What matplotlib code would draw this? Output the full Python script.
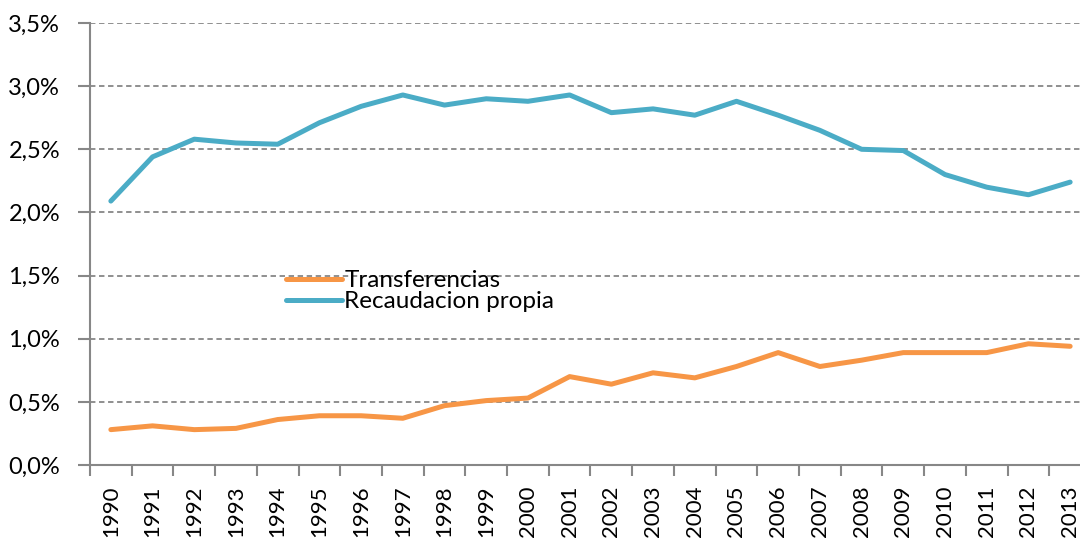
import matplotlib.pyplot as plt
from matplotlib.ticker import FuncFormatter, MultipleLocator

YEARS = [str(y) for y in range(1990, 2014)]

TRANSFERENCIAS = [0.28, 0.31, 0.28, 0.29, 0.36, 0.39, 0.39, 0.37, 0.47, 0.51,
                  0.53, 0.70, 0.64, 0.73, 0.69, 0.78, 0.89, 0.78, 0.83, 0.89,
                  0.89, 0.89, 0.96, 0.94]

RECAUDACION = [2.09, 2.44, 2.58, 2.55, 2.54, 2.71, 2.84, 2.93, 2.85, 2.90,
               2.88, 2.93, 2.79, 2.82, 2.77, 2.88, 2.77, 2.65, 2.50, 2.49,
               2.30, 2.20, 2.14, 2.24]

ORANGE = "#F79646"
BLUE = "#4BACC6"
GREY = "#878787"

plt.rcParams["font.family"] = ["Lato", "DejaVu Sans"]

fig = plt.figure(figsize=(10.8, 5.38), dpi=100)
# the plot area runs a bit past the right edge of the picture, like the source
ax = fig.add_axes([90 / 1080, 73 / 538, 1001 / 1080, 442 / 538])

x = range(len(YEARS))
ax.plot(x, TRANSFERENCIAS, color=ORANGE, lw=3.6, label="Transferencias",
        solid_capstyle="round", solid_joinstyle="round")
ax.plot(x, RECAUDACION, color=BLUE, lw=3.6, label="Recaudacion propia",
        solid_capstyle="round", solid_joinstyle="round")

ax.set_xlim(-0.5, len(YEARS) - 0.5)
ax.set_ylim(0, 3.5)

ax.yaxis.set_major_locator(MultipleLocator(0.5))
ax.yaxis.set_major_formatter(FuncFormatter(lambda v, p: f"{v:.1f}%".replace(".", ",")))
ax.grid(axis="y", color=GREY, linestyle=(0, (3, 2)), linewidth=1.3)
ax.set_axisbelow(True)

ax.set_xticks(list(x))
ax.set_xticklabels(YEARS, rotation=90)
ax.set_xticks([i - 0.5 for i in range(len(YEARS) + 1)], minor=True)
ax.tick_params(axis="x", which="major", length=0, pad=15, labelsize=16)
ax.tick_params(axis="x", which="minor", length=8, width=1.5, color=GREY)
ax.tick_params(axis="y", length=9, width=1.5, color=GREY, labelsize=17, pad=12.5)

for side in ["top", "right"]:
    ax.spines[side].set_visible(False)
for side in ["left", "bottom"]:
    ax.spines[side].set_color(GREY)
    ax.spines[side].set_linewidth(1.5)

ax.legend(loc="upper left", bbox_to_anchor=(0.174, 0.49), frameon=False,
          fontsize=17.5, handlelength=2.3, handletextpad=0.1, labelspacing=0.0)

plt.savefig("out.png", dpi=100)
plt.close()
